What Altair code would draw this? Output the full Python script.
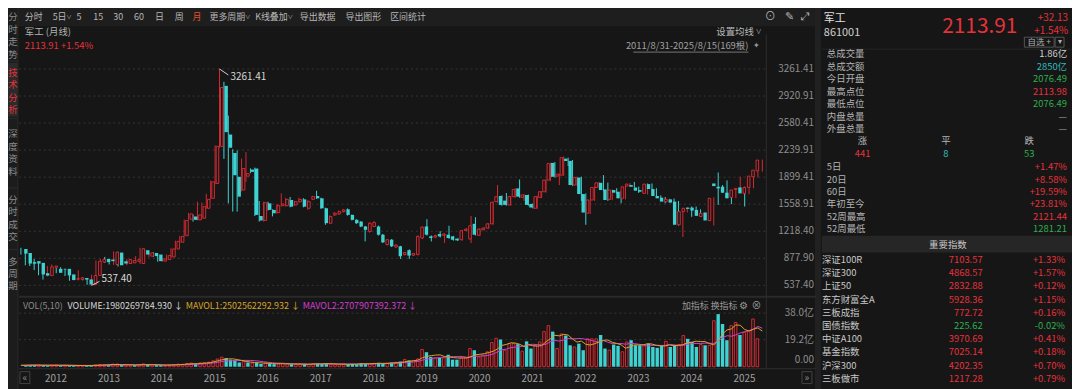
import altair as alt
import numpy as np
import pandas as pd

# ---------------- data (monthly, 2011-08 .. 2025-08) ----------------
opens = [995, 945, 830, 842, 820, 690, 660, 765, 745, 740,
         745, 675, 615, 612, 630, 612, 548, 662, 830, 870,
         862, 800, 950, 840, 812, 820, 840, 812, 980, 905,
         945, 925, 842, 862, 895, 995, 1080, 1162, 1370, 1404,
         1362, 1383, 1508, 1633, 1820, 2287, 3049, 2436, 2203, 1904,
         1737, 1912, 1995, 2008, 1412, 1354, 1570, 1487, 1454, 1541,
         1541, 1612, 1550, 1590, 1620, 1508, 1620, 1662, 1633, 1508,
         1320, 1424, 1437, 1466, 1495, 1424, 1362, 1340, 1278, 1216,
         1278, 1278, 1175, 1050, 1112, 1020, 1029, 925, 980, 917,
         925, 1133, 1279, 1154, 1146, 1183, 1167, 1175, 1154, 1125,
         1112, 1229, 1121, 1312, 1167, 1237, 1258, 1312, 1591, 1662,
         1604, 1550, 1654, 1758, 1645, 1675, 1562, 1508, 1645, 1716,
         1862, 2079, 1912, 1925, 2133, 2104, 1800, 1895, 1687, 1446,
         1612, 1770, 1828, 1745, 1620, 1737, 1716, 1633, 1787, 1800,
         1770, 1737, 1695, 1812, 1750, 1662, 1641, 1591, 1620, 1591,
         1300, 1466, 1516, 1516, 1487, 1404, 1454, 1354, 1820, 1779,
         1779, 1704, 1645, 1745, 1770, 1695, 1770, 1904, 1979]
highs = [1010, 950, 860, 870, 830, 700, 780, 800, 760, 765,
         750, 680, 640, 728, 640, 620, 670, 850, 870, 895,
         870, 965, 960, 850, 870, 870, 905, 1010, 990, 955,
         955, 930, 880, 925, 1005, 1100, 1160, 1365, 1450, 1430,
         1590, 1580, 1690, 1855, 2300, 3261.41, 3100, 2674, 2250, 2236,
         2132, 2216, 2010, 2020, 1600, 1590, 1590, 1495, 1560, 1695,
         1640, 1650, 1600, 1640, 1635, 1610, 1665, 1728, 1640, 1515,
         1420, 1460, 1480, 1500, 1505, 1430, 1370, 1345, 1285, 1330,
         1345, 1290, 1185, 1120, 1120, 1055, 1035, 960, 990, 945,
         1165, 1280, 1370, 1165, 1175, 1220, 1195, 1287, 1160, 1130,
         1235, 1260, 1412, 1395, 1255, 1270, 1320, 1595, 1800, 1670,
         1700, 1665, 1760, 1870, 1690, 1680, 1570, 1665, 1725, 1875,
         2080, 2090, 1945, 2160, 2145, 2115, 1905, 1905, 1695, 1620,
         1780, 1840, 1925, 1830, 1745, 1760, 1725, 1790, 1825, 1840,
         1780, 1760, 1825, 1820, 1760, 1670, 1650, 1630, 1630, 1600,
         1475, 1520, 1530, 1530, 1495, 1455, 1460, 1645, 1958, 1800,
         1858, 1710, 1750, 1904, 1780, 1780, 1925, 2000, 2121]
lows = [925, 790, 780, 730, 665, 610, 650, 750, 690, 720,
        655, 595, 600, 600, 600, 545, 537.4, 655, 820, 820,
        800, 795, 775, 800, 790, 810, 830, 805, 915, 890,
        895, 835, 835, 850, 890, 985, 1075, 1150, 1360, 1340,
        1355, 1370, 1500, 1620, 1810, 2270, 2130, 1570, 1466, 1466,
        1720, 1840, 1950, 1410, 1340, 1340, 1480, 1405, 1440, 1530,
        1530, 1520, 1540, 1580, 1520, 1490, 1610, 1625, 1500, 1300,
        1310, 1410, 1425, 1455, 1415, 1355, 1310, 1270, 1091, 1200,
        1270, 1165, 1070, 1040, 1020, 1010, 870, 915, 870, 910,
        915, 1120, 1165, 1090, 1130, 1140, 1070, 1125, 1100, 1095,
        1100, 1220, 1070, 1165, 1160, 1230, 1250, 1300, 1580, 1540,
        1540, 1540, 1640, 1640, 1600, 1540, 1505, 1500, 1635, 1705,
        1850, 1895, 1800, 1915, 2040, 1790, 1790, 1600, 1300, 1435,
        1600, 1760, 1725, 1600, 1610, 1690, 1570, 1620, 1775, 1770,
        1700, 1700, 1680, 1740, 1650, 1620, 1570, 1580, 1570, 1290,
        1146, 1455, 1400, 1470, 1400, 1390, 1345, 1290, 1550, 1700,
        1690, 1560, 1635, 1740, 1530, 1685, 1760, 1895, 1970]
closes = [937, 812, 810, 812, 675, 660, 770, 780, 695, 735,
          662, 604, 622, 632, 610, 548, 662, 841, 862, 830,
          842, 955, 790, 812, 862, 850, 860, 999, 925, 945,
          905, 842, 870, 912, 995, 1091, 1154, 1354, 1437, 1362,
          1424, 1528, 1620, 1840, 2287, 3028, 2466, 2270, 1924, 1654,
          2008, 1945, 1966, 1424, 1354, 1578, 1487, 1445, 1541, 1562,
          1620, 1528, 1590, 1620, 1528, 1591, 1654, 1633, 1508, 1320,
          1404, 1445, 1466, 1487, 1424, 1362, 1320, 1278, 1237, 1320,
          1328, 1175, 1079, 1112, 1029, 1045, 904, 950, 912, 937,
          1154, 1270, 1175, 1133, 1162, 1154, 1183, 1133, 1112, 1104,
          1225, 1245, 1287, 1175, 1245, 1258, 1312, 1583, 1653, 1550,
          1550, 1654, 1745, 1654, 1675, 1550, 1517, 1654, 1716, 1862,
          2070, 1904, 1937, 2145, 2103, 1800, 1895, 1687, 1454, 1612,
          1770, 1828, 1737, 1612, 1737, 1704, 1633, 1778, 1812, 1779,
          1729, 1716, 1812, 1750, 1662, 1633, 1591, 1620, 1579, 1300,
          1466, 1508, 1500, 1479, 1412, 1445, 1354, 1633, 1787, 1758,
          1704, 1633, 1737, 1758, 1695, 1770, 1912, 1987, 2113.91]
volumes = [1.0, 1.1, 1.3, 1.2, 1.0, 0.9, 1.0, 1.2, 1.1, 1.0,
           0.9, 0.8, 0.9, 0.8, 0.8, 0.7, 1.2, 1.6, 1.4, 1.3,
           1.8, 1.9, 1.3, 1.1, 1.2, 1.1, 1.3, 2.0, 1.6, 1.3,
           1.2, 1.1, 1.0, 1.1, 1.5, 1.8, 1.7, 2.3, 2.6, 2.0,
           2.6, 2.8, 3.2, 4.2, 5.5, 6.8, 6.2, 5.0, 4.5, 3.0,
           3.6, 3.0, 2.6, 2.8, 2.0, 2.6, 2.2, 1.8, 2.0, 2.3,
           2.0, 1.8, 1.6, 1.8, 1.9, 1.6, 2.2, 2.4, 2.0, 2.5,
           1.8, 1.6, 1.5, 1.8, 1.9, 2.0, 1.8, 2.6, 2.2, 2.0,
           2.4, 2.8, 2.6, 2.4, 3.0, 3.2, 3.7, 5.2, 4.5, 4.5,
           5.5, 12.2, 10.3, 7.0, 6.3, 6.3, 6.3, 8.5, 5.0, 5.0,
           6.3, 6.3, 12.9, 11.7, 7.0, 8.2, 10.6, 17.2, 20.2, 19.3,
           11.7, 16.4, 16.4, 16.0, 11.0, 18.0, 12.9, 15.2, 17.6, 24.9,
           29.1, 24.9, 12.9, 23.2, 22.1, 15.2, 14.0, 16.4, 11.7, 19.8,
           19.8, 19.8, 22.5, 12.9, 11.7, 15.7, 14.8, 10.6, 17.6, 18.8,
           15.2, 15.2, 14.8, 16.4, 14.0, 13.4, 15.2, 18.0, 14.0, 15.2,
           15.7, 22.1, 19.8, 17.6, 14.0, 15.7, 15.2, 15.2, 32.6, 37.3,
           30.3, 18.8, 29.1, 31.4, 22.5, 24.4, 25.6, 33.8, 19.8]  # 亿

year_labels = [str(y) for y in range(2012, 2026)]
price_ticks = [537.40, 877.90, 1218.40, 1558.91, 1899.41, 2239.91, 2580.41, 2920.91, 3261.41]
price_tick_labels = ["537.40", "877.90", "1218.40", "1558.91", "1899.41", "2239.91", "2580.41", "2920.91", "3261.41"]
vol_ticks = [38.0, 19.2]
vol_tick_labels = ["38.0亿", "19.2亿"]

toolbar_items = ["分时", "5日˅", "5", "15", "30", "60", "日", "周", "月", "更多周期˅", "K线叠加˅", "导出数据", "导出图形", "区间统计"]
sidebar_groups = ["分时走势", "技术分析", "深度资料", "分时成交", "多周期"]

stat_labels = ["总成交量", "总成交额", "今日开盘", "最高点位", "最低点位", "内盘总量", "外盘总量"]
stat_values = ["1.86亿", "2850亿", "2076.49", "2113.98", "2076.49", "—", "—"]
breadth_labels = ["涨", "平", "跌"]
breadth_values = ["441", "8", "53"]
perf_labels = ["5日", "20日", "60日", "年初至今", "52周最高", "52周最低"]
perf_values = ["+1.47%", "+8.58%", "+19.59%", "+23.81%", "2121.44", "1281.21"]
idx_names = ["深证100R", "深证300", "上证50", "东方财富全A", "三板成指", "国债指数", "中证A100", "基金指数", "沪深300", "三板做市"]
idx_values = ["7103.57", "4868.57", "2832.88", "5928.36", "772.72", "225.62", "3970.69", "7025.14", "4202.35", "1217.28"]
idx_pcts = ["+1.33%", "+1.57%", "+0.12%", "+1.15%", "+0.16%", "-0.02%", "+0.41%", "+0.18%", "+0.70%", "+0.79%"]

for arr in (opens, highs, lows, closes, volumes):
    assert len(arr) == 169

# ---------------- style ----------------
FONT = "Noto Sans CJK SC"
BG = "#161616"
TOOLBAR = "#1e1e1e"
SIDEBAR = "#1c1c1c"
RED = "#d42a32"
RED_T = "#e5323b"
CYAN = "#3fd2d2"
GREEN = "#2fae4e"
TEAL = "#33b8bc"
GRAY = "#9a9a9a"
LIGHT = "#d2d2d2"
AX = "#8e8e8e"
GRID = "#363636"
GOLD = "#d8a42a"
MAG = "#cf3fcf"

W, H = 1072, 381  # chart drawn at page offset (8, 8)


def P(v):
    return v - 8


one = pd.DataFrame({"k": [0]})


def T(s, x, y, color=GRAY, size=10, align="left", weight="normal", baseline="middle"):
    return alt.Chart(one).mark_text(text=s, align=align, baseline=baseline, color=color,
                                    fontSize=size, font=FONT, fontWeight=weight).encode(
        x=alt.value(P(x)), y=alt.value(P(y)))


def R(x1, x2, y1, y2, fill, stroke=None):
    if stroke:
        m = alt.Chart(one).mark_rect(fillOpacity=0, stroke=stroke, strokeWidth=1)
    else:
        m = alt.Chart(one).mark_rect(color=fill)
    return m.encode(x=alt.value(P(x1)), x2=alt.value(P(x2)), y=alt.value(P(y1)), y2=alt.value(P(y2)))


def L(x1, y1, x2, y2, color, w=1, dash=None):
    kw = dict(color=color, strokeWidth=w)
    if dash:
        kw["strokeDash"] = dash
    return alt.Chart(one).mark_rule(**kw).encode(
        x=alt.value(P(x1)), x2=alt.value(P(x2)), y=alt.value(P(y1)), y2=alt.value(P(y2)))


# ---------------- tables ----------------
df = pd.DataFrame({"i": np.arange(169), "open": opens, "high": highs, "low": lows,
                   "close": closes, "vol": volumes})
df["dir"] = np.where(df["close"] >= df["open"], "up", "down")
prev = df["close"].shift(1).fillna(df["open"])
df["vdir"] = np.where(df["close"] >= prev, "up", "down")

XS = alt.Scale(domain=[0, 168], range=[P(21), P(768)], nice=False, zero=False)
YP = alt.Scale(domain=[537.4, 3261.41], range=[P(286), P(68)], nice=False, zero=False)
YV = alt.Scale(domain=[0, 38.0], range=[P(368), P(314)], nice=False, zero=False)
xq = alt.X("i:Q", scale=XS, axis=None)

layers = []

# ---------------- background panels ----------------
layers.append(R(18, 822, 0, 25, TOOLBAR))
layers.append(R(0, 18, 0, 400, SIDEBAR))
layers.append(R(8, 18, 62, 116, "#2b2b2b"))
layers.append(R(821, 827, 0, 400, "#212121"))
layers.append(R(828, 1090, 236, 253, "#262626"))
layers.append(L(18, 0, 18, 400, "#2a2a2a"))

# ---------------- grid ----------------
pt = pd.DataFrame({"v": price_ticks, "label": price_tick_labels})
layers.append(alt.Chart(pt).mark_rule(color=GRID, strokeDash=[2, 3], strokeWidth=1).encode(
    y=alt.Y("v:Q", scale=YP, axis=None), x=alt.value(P(19)), x2=alt.value(P(772))))
layers.append(alt.Chart(pt).mark_text(align="right", baseline="middle", font=FONT, fontSize=10, color=AX).encode(
    y=alt.Y("v:Q", scale=YP, axis=None), x=alt.value(P(820)), text="label:N"))

vt = pd.DataFrame({"v": vol_ticks, "label": vol_tick_labels})
layers.append(alt.Chart(vt).mark_rule(color=GRID, strokeDash=[2, 3], strokeWidth=1).encode(
    y=alt.Y("v:Q", scale=YV, axis=None), x=alt.value(P(19)), x2=alt.value(P(772))))
layers.append(alt.Chart(vt).mark_text(align="right", baseline="middle", font=FONT, fontSize=10, color=AX).encode(
    y=alt.Y("v:Q", scale=YV, axis=None), x=alt.value(P(820)), text="label:N"))
layers.append(T("0.00", 820, 361, AX, 10, "right"))

# frame lines
layers.append(L(772, 33, 772, 370, "#2e2e2e"))
layers.append(L(19, 297.5, 822, 297.5, "#2a2a2a", 2))
layers.append(L(19, 370, 822, 370, "#2e2e2e"))

# ---------------- candles ----------------
layers.append(alt.Chart(df).mark_rule(strokeWidth=1).encode(
    x=xq, y=alt.Y("high:Q", scale=YP, axis=None), y2="low:Q",
    color=alt.Color("dir:N", scale=alt.Scale(domain=["up", "down"], range=[RED, CYAN]), legend=None)))
layers.append(alt.Chart(df).transform_filter("datum.dir == 'up'").mark_bar(
    size=2.6, fill=BG, stroke=RED, strokeWidth=1).encode(
    x=xq, y=alt.Y("open:Q", scale=YP, axis=None), y2="close:Q"))
layers.append(alt.Chart(df).transform_filter("datum.dir == 'down'").mark_bar(
    size=3.4, color=CYAN).encode(
    x=xq, y=alt.Y("close:Q", scale=YP, axis=None), y2="open:Q"))

# annotations of extremes
ann_hi = pd.DataFrame({"i": [45], "v": [3261.41], "i2": [47.0], "v2": [3186.0], "label": ["3261.41"]})
ann_lo = pd.DataFrame({"i": [16], "v": [537.4], "i2": [17.8], "v2": [587.0], "label": ["537.40"]})
for a, dx, dy in ((ann_hi, 11, 8), (ann_lo, 10, -6)):
    layers.append(alt.Chart(a).mark_rule(color="#cfcfcf", strokeWidth=1).encode(
        x=xq, x2="i2:Q", y=alt.Y("v:Q", scale=YP, axis=None), y2="v2:Q"))
    layers.append(alt.Chart(a).mark_text(align="left", baseline="middle", dx=dx, dy=dy, font=FONT,
                                         fontSize=10, color="#d8d8d8").encode(
        x=xq, y=alt.Y("v:Q", scale=YP, axis=None), text="label:N"))

# ---------------- volume ----------------
layers.append(alt.Chart(df).transform_filter("datum.vdir == 'up'").mark_bar(
    size=2.6, fill=BG, stroke=RED, strokeWidth=1).encode(
    x=xq, y=alt.Y("vol:Q", scale=YV, axis=None), y2=alt.datum(0)))
layers.append(alt.Chart(df).transform_filter("datum.vdir == 'down'").mark_bar(
    size=3.4, color=CYAN).encode(
    x=xq, y=alt.Y("vol:Q", scale=YV, axis=None), y2=alt.datum(0)))
ma = alt.Chart(df).transform_window(
    ma5="mean(vol)", frame=[-4, 0], sort=[alt.SortField("i")]).transform_window(
    ma10="mean(vol)", frame=[-9, 0], sort=[alt.SortField("i")])
layers.append(ma.mark_line(color=MAG, strokeWidth=1).encode(x=xq, y=alt.Y("ma10:Q", scale=YV, axis=None)))
layers.append(ma.mark_line(color=GOLD, strokeWidth=1).encode(x=xq, y=alt.Y("ma5:Q", scale=YV, axis=None)))

# year labels
yrs = pd.DataFrame({"label": year_labels, "i": [(int(s) - 2011) * 12 - 7 for s in year_labels]})
layers.append(alt.Chart(yrs).mark_text(align="left", baseline="middle", dx=2, font=FONT, fontSize=10,
                                       color="#a0a0a0").encode(
    x=xq, y=alt.value(P(380)), text="label:N"))
layers.append(T("«", 25, 379, "#8a8a8a", 10, "center"))
layers.append(R(20, 30, 373, 385, None, "#444"))
layers.append(T("»", 813, 379, "#8a8a8a", 10, "center"))
layers.append(R(808, 818, 373, 385, None, "#444"))

# ---------------- toolbar ----------------
tb_x = [25, 53, 77, 94, 114, 135, 156, 176, 194, 211, 257, 302, 348, 393]
for s, x in zip(toolbar_items, tb_x):
    layers.append(T(s, x, 16, "#e0502a" if s == "月" else "#b8b8b8", 9))
layers.append(T("⊙", 776, 16, "#b0b0b0", 11, "center"))
layers.append(T("✎", 795, 16, "#b0b0b0", 11, "center"))
layers.append(T("⤢", 811, 16, "#b0b0b0", 11, "center"))

# chart header
layers.append(T("军工 (月线)", 25, 31, "#b0b0b0", 9.5))
layers.append(T("2113.91  +1.54%", 25, 45, RED_T, 9.5))
layers.append(T("设置均线 ˅", 767, 31, "#b8b8b8", 9.5, "right"))
layers.append(T("2011/8/31-2025/8/15(169根)", 754, 45, "#a0a0a0", 9.5, "right"))
layers.append(L(638, 51, 754, 51, "#777"))
layers.append(T("✦", 762, 45, "#9a9a9a", 8, "center"))

# volume header
layers.append(T("VOL(5,10)", 23, 307, "#8a8a8a", 9))
layers.append(T("VOLUME:1980269784.930 ↓", 68, 307, "#d6d6d6", 9))
layers.append(T("MAVOL1:2502562292.932 ↓", 187, 307, GOLD, 9))
layers.append(T("MAVOL2:2707907392.372 ↓", 305, 307, MAG, 9))
layers.append(T("加指标  换指标", 687, 307, "#9a9a9a", 9))
layers.append(T("⚙", 749, 307, "#9a9a9a", 10, "center"))
layers.append(T("⊗", 762, 307, "#9a9a9a", 10, "center"))

# sidebar (vertical text)
side_top = [16, 72, 134, 200, 262]
for g, y0 in zip(sidebar_groups, side_top):
    col = RED_T if g == "技术分析" else "#8c8c8c"
    for k, ch in enumerate(g):
        layers.append(T(ch, 13, y0 + k * 12.5, col, 9.5, "center"))
for y in (60, 118, 188, 250):
    layers.append(L(8, y, 18, y, "#2c2c2c"))

# ---------------- right panel ----------------
layers.append(T("军工", 830, 17.5, "#e0e0e0", 11))
layers.append(T("861001", 830, 31.5, "#cfcfcf", 11))
layers.append(T("2113.91", 1025, 26, RED_T, 21, "right"))
layers.append(T("+32.13", 1076, 17, RED_T, 10, "right"))
layers.append(T("+1.54%", 1076, 30, RED_T, 10, "right"))
layers.append(R(1032, 1062, 36, 46, None, "#555"))
layers.append(R(1063, 1072, 36, 46, None, "#555"))
layers.append(T("自选 +", 1047, 41, "#b0b0b0", 8.5, "center"))
layers.append(T("▾", 1067.5, 41, "#b0b0b0", 8, "center"))
layers.append(L(828, 48, 1080, 48, "#262626"))

stat_colors = [LIGHT, TEAL, GREEN, RED_T, GREEN, GRAY, GRAY]
for k, (lab, val, col) in enumerate(zip(stat_labels, stat_values, stat_colors)):
    y = 53 + k * 12.6
    layers.append(T(lab, 833, y, "#b4b4b4", 9.5))
    layers.append(T(val, 1075, y, col, 9.5, "right"))

for lab, val, x, col in zip(breadth_labels, breadth_values, [869, 953, 1037], [RED_T, TEAL, GREEN]):
    layers.append(T(lab, x, 141, "#b4b4b4", 9.5, "center"))
    layers.append(T(val, x, 154, col, 9.5, "center"))

perf_colors = [RED_T, RED_T, RED_T, RED_T, RED_T, GREEN]
for k, (lab, val, col) in enumerate(zip(perf_labels, perf_values, perf_colors)):
    y = 167 + k * 12.5
    layers.append(T(lab, 833, y, "#b4b4b4", 9.5))
    layers.append(T(val, 1075, y, col, 9.5, "right"))

layers.append(T("重要指数", 955, 245, "#c8c8c8", 9.5, "center"))

for k, (nm, val, pc) in enumerate(zip(idx_names, idx_values, idx_pcts)):
    y = 260.5 + k * 13.3
    col = GREEN if pc.startswith("-") else RED_T
    layers.append(T(nm, 828, y, "#c8c8c8", 9.5))
    layers.append(T(val, 990, y, col, 9.5, "right"))
    layers.append(T(pc, 1073, y, col, 9.5, "right"))

chart = alt.layer(*layers).resolve_scale(
    x="independent", y="independent", color="independent"
).properties(
    width=W, height=H, padding=0, background=BG,
    autosize=alt.AutoSizeParams(type="none"),
).configure_view(strokeWidth=0)

chart.save("out.html", embed_options={"renderer": "svg", "actions": False})
